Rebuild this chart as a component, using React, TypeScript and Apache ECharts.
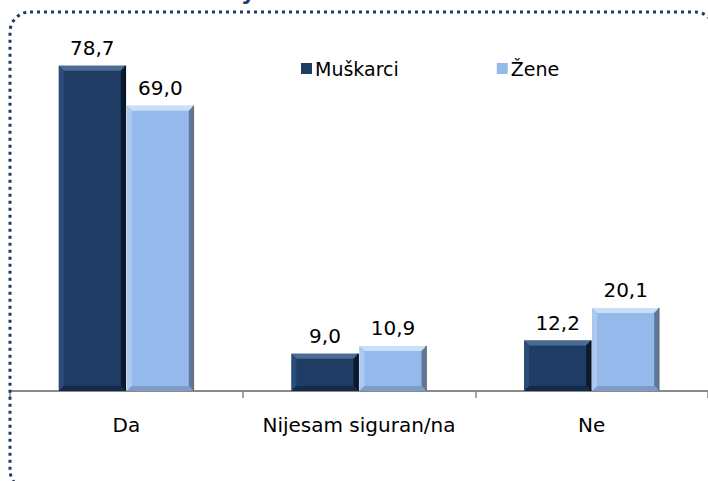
import React, { useEffect, useRef } from "react";
import * as echarts from "echarts";

const categories = ["Da", "Nijesam siguran/na", "Ne"];
const seriesNames = ["Muškarci", "Žene"];
const muskarci = [78.7, 9.0, 12.2];
const zene = [69.0, 10.9, 20.1];

const FONT = '"DejaVu Sans", Verdana, sans-serif';

const palettes = [
  { main: "#1F3C64", top: "#4C6B94", left: "#2B4B78", right: "#0C1A30", bottom: "#132A49", edge: "#0A1526" },
  { main: "#95B9EA", top: "#C9DEF8", left: "#ACC9F0", right: "#5E789D", bottom: "#7C9CC9", edge: "#6A6F78" },
];

function fmt(v: number) {
  return v.toFixed(1).replace(".", ",");
}

function makeRender(si: number) {
  return (params: any, api: any) => {
    const ci = api.value(0);
    const v = api.value(1);
    const base = api.coord([ci, 0]);
    const top = api.coord([ci, v]);
    const band = api.size([1, 0])[0];
    const w = band * 0.288;
    const x0 = si === 0 ? base[0] - w - 0.5 : base[0] + 0.5;
    const x1 = x0 + w;
    const y0 = top[1];
    const y1 = base[1];
    const b = 5;
    const p = palettes[si];
    return {
      type: "group",
      children: [
        { type: "rect", shape: { x: x0, y: y0, width: w, height: y1 - y0 }, style: { fill: p.main } },
        {
          type: "polygon",
          shape: { points: [[x0, y0], [x1, y0], [x1 - b, y0 + b], [x0 + b, y0 + b]] },
          style: { fill: p.top },
        },
        {
          type: "polygon",
          shape: { points: [[x0, y0], [x0 + b, y0 + b], [x0 + b, y1 - b], [x0, y1]] },
          style: { fill: p.left },
        },
        {
          type: "polygon",
          shape: { points: [[x1, y0], [x1, y1], [x1 - b, y1 - b], [x1 - b, y0 + b]] },
          style: { fill: p.right },
        },
        {
          type: "polygon",
          shape: { points: [[x0, y1], [x0 + b, y1 - b], [x1 - b, y1 - b], [x1, y1]] },
          style: { fill: p.bottom },
        },
        {
          type: "line",
          shape: { x1: x1 - 0.5, y1: y0, x2: x1 - 0.5, y2: y1 },
          style: { stroke: p.edge, lineWidth: 1.5 },
        },
        {
          type: "text",
          x: (x0 + x1) / 2,
          y: y0 - 8,
          style: {
            text: fmt(v),
            fill: "#000",
            fontSize: 20,
            fontFamily: FONT,
            align: "center",
            verticalAlign: "bottom",
          },
        },
      ],
    };
  };
}

export default function App() {
  const ref = useRef<HTMLDivElement>(null);
  useEffect(() => {
    if (!ref.current) return;
    const chart = echarts.init(ref.current, null, { renderer: "svg" });
    chart.setOption({
      animation: false,
      backgroundColor: "#fff",
      grid: { left: 10, right: -2, top: 19, bottom: 90, containLabel: false },
      legend: {
        left: 296,
        top: 54,
        itemWidth: 11,
        itemHeight: 11,
        itemGap: 98,
        icon: "rect",
        textStyle: { fontSize: 19, fontFamily: FONT, color: "#000", padding: [0, 0, 0, -2] },
        data: seriesNames,
      },
      xAxis: {
        type: "category",
        data: categories,
        axisLine: { lineStyle: { color: "#8A8A8A", width: 2 } },
        axisTick: { show: true, length: 7, lineStyle: { color: "#8A8A8A", width: 1.5 } },
        axisLabel: { interval: 0, fontSize: 20, fontFamily: FONT, color: "#000", margin: 24 },
      },
      yAxis: { type: "value", min: 0, max: 90, show: false, splitLine: { show: false } },
      graphic: [
        {
          type: "rect",
          silent: true,
          z: 100,
          shape: { x: 10, y: 12, width: 705, height: 478, r: 20 },
          style: { fill: "none", stroke: "#1F3864", lineWidth: 3, lineDash: [3, 4] },
        },
        {
          type: "text",
          left: 241,
          top: -19,
          silent: true,
          style: { text: "y", font: 'bold 22px "DejaVu Sans"', fill: "#1F3864" },
        },
      ],
      series: [
        {
          name: seriesNames[0],
          type: "custom",
          itemStyle: { color: palettes[0].main },
          encode: { x: 0, y: 1 },
          data: muskarci.map((v, i) => [i, v]),
          renderItem: makeRender(0),
        },
        {
          name: seriesNames[1],
          type: "custom",
          itemStyle: { color: palettes[1].main },
          encode: { x: 0, y: 1 },
          data: zene.map((v, i) => [i, v]),
          renderItem: makeRender(1),
        },
      ],
    });
    return () => chart.dispose();
  }, []);
  return (
    <div
      ref={ref}
      style={{ position: "fixed", left: 0, top: 0, width: 708, height: 481, background: "#fff" }}
    />
  );
}
